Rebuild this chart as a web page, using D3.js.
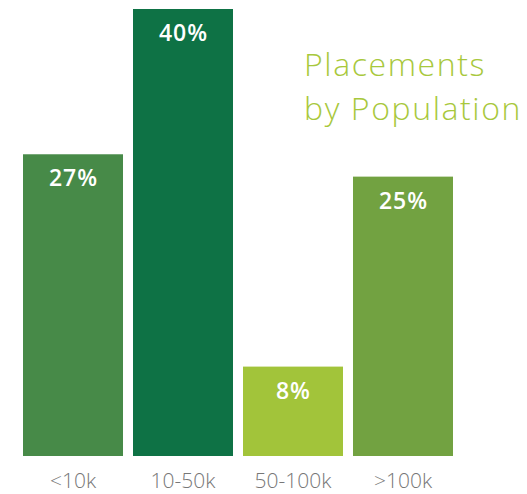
<!DOCTYPE html>
<html><head><meta charset="utf-8">
<script src="https://cdn.jsdelivr.net/npm/d3@7"></script>
<style>body{margin:0;background:#fff}svg{display:block}</style>
</head><body>
<svg id="c" width="527" height="494"></svg>
<script>
const categories = ["<10k", "10-50k", "50-100k", ">100k"];
const values = [27, 40, 8, 25];
const colors = ["#478a48", "#0e7245", "#a2c43a", "#72a241"];
const titleLines = ["Placements", "by Population"];

const svg = d3.select("#c");
const x = d3.scaleBand().domain(categories).range([18, 458]).paddingInner(0.0909).paddingOuter(0.0455);
const y = d3.scaleLinear().domain([0, 40]).range([456, 9]);

svg.selectAll("rect.bar").data(values).join("rect")
  .attr("class", "bar")
  .attr("x", (d, i) => x(categories[i]))
  .attr("width", x.bandwidth())
  .attr("y", d => y(d))
  .attr("height", d => y(0) - y(d))
  .attr("fill", (d, i) => colors[i]);

svg.selectAll("text.val").data(values).join("text")
  .attr("class", "val")
  .attr("x", (d, i) => x(categories[i]) + x.bandwidth() / 2 + 0.5)
  .attr("y", d => y(d) + 32)
  .attr("text-anchor", "middle")
  .attr("fill", "#fff")
  .style("font-family", "'Open Sans', sans-serif")
  .style("font-weight", 600)
  .style("font-size", "23px")
  .style("letter-spacing", "1px")
  .text(d => d + "%");

const xAxis = d3.axisBottom(x).tickSize(0).tickPadding(0);
const g = svg.append("g").attr("transform", "translate(0,488)").call(xAxis);
g.select(".domain").remove();
g.selectAll("text")
  .attr("dy", 0)
  .attr("fill", "#777")
  .style("font-family", "'Open Sans', sans-serif")
  .style("font-weight", 300)
  .style("font-size", "21px");

svg.selectAll("text.title").data(titleLines).join("text")
  .attr("class", "title")
  .attr("x", 304)
  .attr("y", (d, i) => 76 + i * 44)
  .attr("fill", "#a8c83c")
  .style("font-family", "'Open Sans', sans-serif")
  .style("font-weight", 300)
  .style("font-size", "32px")
  .style("letter-spacing", "1.6px")
  .text(d => d);
</script>
</body></html>
